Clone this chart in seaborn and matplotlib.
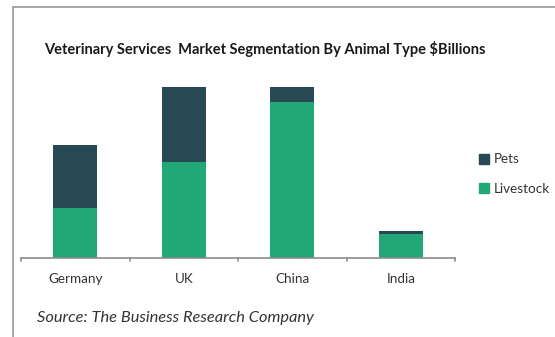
import matplotlib
matplotlib.use("Agg")
import matplotlib.pyplot as plt
import seaborn as sns
import pandas as pd
import numpy as np
from matplotlib.lines import Line2D
from matplotlib.patches import Rectangle

countries = ["Germany", "UK", "China", "India"]
livestock = [5.0, 9.6, 15.6, 2.4]
pets = [6.3, 7.5, 1.5, 0.25]
series_names = ["Pets", "Livestock"]
title = "Veterinary Services  Market Segmentation By Animal Type $Billions"
source = "Source: The Business Research Company"

PETS_C = "#284854"
LIVE_C = "#21a876"

sns.set_theme(style="white")
plt.rcParams['font.family'] = ['Lato', 'DejaVu Sans']

W, H = 555, 337
fig = plt.figure(figsize=(W / 100, H / 100), dpi=100)
fig.patch.set_facecolor("white")

# axes in pixel coords: left 21, right 455, bottom 257.5, top 87
left, right, bottom, top = 21, 455, 257.5, 87
ax = fig.add_axes([left / W, 1 - bottom / H, (right - left) / W, (bottom - top) / H])

df = pd.DataFrame({"country": countries,
                   "livestock": livestock,
                   "pets": pets})
df["total"] = df["livestock"] + df["pets"]

sns.barplot(data=df, x="country", y="total", color=PETS_C, width=0.405,
            saturation=1, ax=ax, edgecolor="none", linewidth=0)
sns.barplot(data=df, x="country", y="livestock", color=LIVE_C, width=0.405,
            saturation=1, ax=ax, edgecolor="none", linewidth=0)

ax.set_xlim(-0.5, len(countries) - 0.5)
ax.set_ylim(0, 17.1)
ax.set_xlabel("")
ax.set_ylabel("")
ax.set_yticks([])
for s in ["top", "right", "left"]:
    ax.spines[s].set_visible(False)
ax.spines["bottom"].set_color("#8c8c8c")
ax.spines["bottom"].set_linewidth(1.2)
ax.set_xticks(np.arange(len(countries)))
ax.set_xticklabels(countries, fontsize=9.7, color="#333333")
ax.tick_params(axis="x", length=0, pad=11)

# boundary tick marks between categories
for xb in np.arange(-0.5, len(countries), 1.0):
    ax.plot([xb, xb], [0, -0.35], color="#8c8c8c", lw=1.2, clip_on=False)

# legend
handles = [Rectangle((0, 0), 1, 1, color=PETS_C), Rectangle((0, 0), 1, 1, color=LIVE_C)]
fig.legend(handles, series_names, loc="upper left",
           bbox_to_anchor=(474 / W, 1 - 148 / H), frameon=False,
           fontsize=9.7, handlelength=0.75, handleheight=0.75,
           handletextpad=0.3, labelspacing=1.3, borderaxespad=0,
           labelcolor="#333333")

# title and source
fig.text(265 / W, 1 - 49 / H, title, ha="center", va="center",
         fontsize=10.5, fontweight="bold", color="#1a1a1a")
fig.text(37 / W, 1 - 318 / H, source, ha="left", va="center",
         fontsize=11.8, style="italic", color="#333333")

# outer frame lines
fig.add_artist(Line2D([13 / W, 13 / W], [0, 1 - 7 / H], transform=fig.transFigure,
                      color="#9a9a9a", lw=1.2))
fig.add_artist(Line2D([13 / W, 1], [1 - 7 / H, 1 - 7 / H], transform=fig.transFigure,
                      color="#9a9a9a", lw=1.2))

fig.savefig("out.png", dpi=100, facecolor="white")
